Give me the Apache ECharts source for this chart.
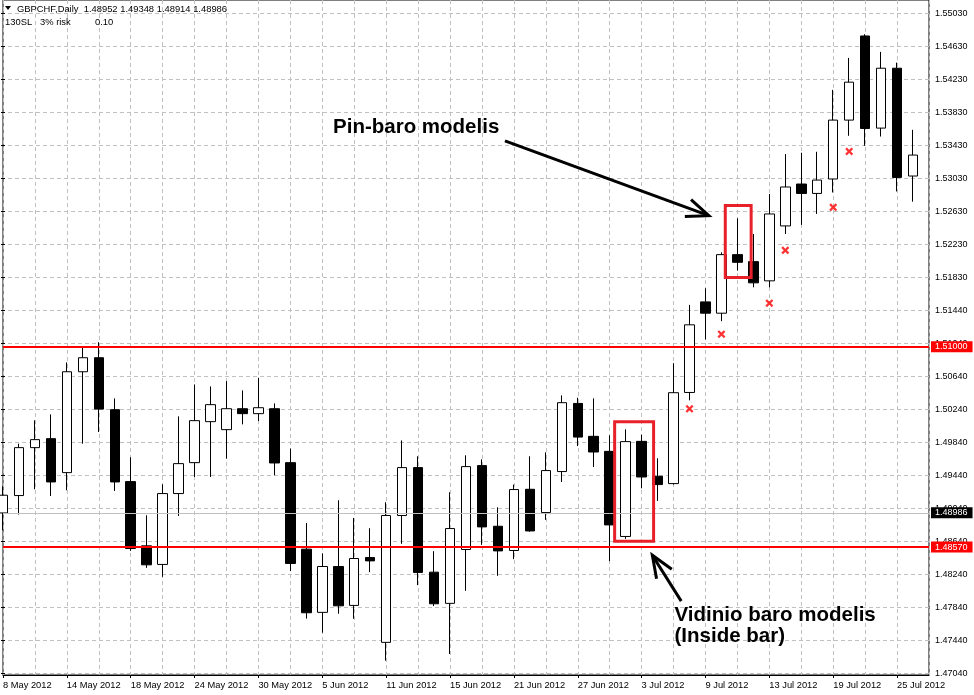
<!DOCTYPE html>
<html>
<head>
<meta charset="utf-8">
<script src="https://cdn.jsdelivr.net/npm/echarts@6/dist/echarts.min.js"></script>
<style>
html,body{margin:0;padding:0;background:#ffffff;}
#c{width:974px;height:695px;}
</style>
</head>
<body>
<div id="c"></div>
<script>
// ---------------- data ----------------
const categories = [
  '8 May 2012','9 May 2012','10 May 2012','11 May 2012','14 May 2012','15 May 2012','16 May 2012','17 May 2012',
  '18 May 2012','21 May 2012','22 May 2012','23 May 2012','24 May 2012','25 May 2012','28 May 2012','29 May 2012',
  '30 May 2012','31 May 2012','1 Jun 2012','4 Jun 2012','5 Jun 2012','6 Jun 2012','7 Jun 2012','8 Jun 2012',
  '11 Jun 2012','12 Jun 2012','13 Jun 2012','14 Jun 2012','15 Jun 2012','18 Jun 2012','19 Jun 2012','20 Jun 2012',
  '21 Jun 2012','22 Jun 2012','25 Jun 2012','26 Jun 2012','27 Jun 2012','28 Jun 2012','29 Jun 2012','2 Jul 2012',
  '3 Jul 2012','4 Jul 2012','5 Jul 2012','6 Jul 2012','9 Jul 2012','10 Jul 2012','11 Jul 2012','12 Jul 2012',
  '13 Jul 2012','16 Jul 2012','17 Jul 2012','18 Jul 2012','19 Jul 2012','20 Jul 2012','23 Jul 2012','24 Jul 2012',
  '25 Jul 2012','26 Jul 2012','27 Jul 2012'
];
// [open, close, low, high]
const ohlc = [
  [1.48984,1.49199,1.48775,1.49308],
  [1.49195,1.49776,1.48965,1.49824],
  [1.49776,1.49873,1.49271,1.50107],
  [1.49885,1.49360,1.49190,1.50179],
  [1.49473,1.50696,1.49259,1.50809],
  [1.50696,1.50866,1.49824,1.50994],
  [1.50866,1.50243,1.49965,1.51054],
  [1.50236,1.49360,1.49251,1.50373],
  [1.49364,1.48553,1.48524,1.49659],
  [1.48585,1.48355,1.48318,1.48956],
  [1.48360,1.49219,1.48210,1.49332],
  [1.49219,1.49582,1.48948,1.50155],
  [1.49594,1.50103,1.49420,1.50542],
  [1.50091,1.50297,1.49420,1.50518],
  [1.49994,1.50248,1.49643,1.50582],
  [1.50248,1.50188,1.50058,1.50470],
  [1.50188,1.50260,1.50098,1.50623],
  [1.50248,1.49590,1.49441,1.50312],
  [1.49594,1.48372,1.48279,1.49764],
  [1.48545,1.47774,1.47703,1.48862],
  [1.47779,1.48335,1.47532,1.48493],
  [1.48335,1.47858,1.47762,1.49138],
  [1.47863,1.48432,1.47701,1.48924],
  [1.48444,1.48403,1.48266,1.48799],
  [1.47415,1.48953,1.47193,1.49114],
  [1.48953,1.49534,1.48609,1.49864],
  [1.49534,1.48263,1.48109,1.49671],
  [1.48266,1.47883,1.47855,1.48521],
  [1.47888,1.48795,1.47274,1.49235],
  [1.48541,1.49546,1.48040,1.49683],
  [1.49558,1.48815,1.48597,1.49634],
  [1.48823,1.48524,1.48222,1.49053],
  [1.48529,1.49268,1.48424,1.49328],
  [1.49271,1.48766,1.48757,1.49671],
  [1.48989,1.49498,1.48900,1.49719],
  [1.49486,1.50321,1.49360,1.50409],
  [1.50312,1.49904,1.49795,1.50381],
  [1.49913,1.49723,1.49541,1.50373],
  [1.49731,1.48839,1.48400,1.49925],
  [1.48699,1.49849,1.48670,1.49998],
  [1.49852,1.49420,1.49283,1.49933],
  [1.49429,1.49328,1.49130,1.49647],
  [1.49340,1.50442,1.49328,1.50800],
  [1.50445,1.51265,1.50349,1.51507],
  [1.51543,1.51406,1.51087,1.51708],
  [1.51406,1.52116,1.51309,1.52144],
  [1.52116,1.52023,1.51922,1.52556],
  [1.52031,1.51774,1.51720,1.52367],
  [1.51798,1.52609,1.51720,1.52851],
  [1.52464,1.52936,1.52367,1.53335],
  [1.52972,1.52858,1.52476,1.53351],
  [1.52858,1.53020,1.52609,1.53363],
  [1.53033,1.53747,1.52870,1.54114],
  [1.53747,1.54207,1.53557,1.54501],
  [1.54767,1.53645,1.53436,1.54788],
  [1.53650,1.54376,1.53548,1.54574],
  [1.54376,1.53052,1.52882,1.54444],
  [1.53069,1.53323,1.52758,1.53629]
];
// trailing-stop markers (red crosses)
const stopIdx = [43, 45, 48, 49, 52, 53];
const stopPrice = [1.50246, 1.51151, 1.51527, 1.52168, 1.52689, 1.53367];
// right price scale labels (bottom to top)
const yTickLabels = ['1.47040','1.47440','1.47840','1.48240','1.48640','1.49040','1.49440','1.49840','1.50240','1.50640',
  '1.51040','1.51440','1.51830','1.52230','1.52630','1.53030','1.53430','1.53830','1.54230','1.54630','1.55030'];
const yTickLow = 1.47040, yTickHigh = 1.55030;
// horizontal levels: two red support/resistance lines and the grey bid line
const levelPrices = [1.51000, 1.48570];
const levelLabels = ['1.51000', '1.48570'];
const bidPrice = 1.48986;
const bidLabel = '1.48986';
// header
const headerTitle = 'GBPCHF,Daily';
const headerOHLC = ['1.48952', '1.49348', '1.48914', '1.48986'];
const headerLine2 = ['130SL', '3% risk', '0.10'];
// annotations (bar index, price)
const boxes = [
  { i0: 38.31, i1: 40.75, p0: 1.50091, p1: 1.48642 },
  { i0: 45.24, i1: 46.86, p0: 1.52712, p1: 1.51840 }
];
const arrows = [
  { from: [31.44, 1.53496], to: [44.21, 1.52588] },
  { from: [42.48, 1.47915], to: [40.67, 1.48472] }
];
const notes = [
  { i: 20.67, p: 1.53657, text: 'Pin-baro modelis' },
  { i: 42.06, p: 1.47746, text: 'Vidinio baro modelis' },
  { i: 42.06, p: 1.47483, text: '(Inside bar)' }
];

// ---------------- layout ----------------
const FONT = '"Liberation Sans", Arial, sans-serif';
const W = 974, H = 695;
const plotLeft = 1, plotRight = 929, plotTop = -1, plotBottom = 675;
const tickTopPx = 13.3, tickBottomPx = 673.3;
const ppu = (tickBottomPx - tickTopPx) / (yTickHigh - yTickLow);
const dataMax = yTickHigh + (tickTopPx - plotTop) / ppu;
const dataMin = yTickLow - (plotBottom - tickBottomPx) / ppu;

const chart = echarts.init(document.getElementById('c'), null, { renderer: 'canvas' });

const gridLine = { color: '#c0c0c0', width: 1, type: [4, 3] };

function levelSeries(price, text, lineColor, width, bg, z) {
  return {
    type: 'line', xAxisIndex: 0, yAxisIndex: 0, data: [], silent: true, z: z,
    markLine: {
      symbol: 'none', silent: true, animation: false, precision: 5,
      lineStyle: { color: lineColor, width: width, type: 'solid' },
      label: { show: true, position: 'end', distance: 2, color: '#ffffff', fontSize: 9, fontFamily: FONT,
        padding: [1, 5, 0, 4], lineHeight: 10, backgroundColor: bg, formatter: text },
      data: [{ yAxis: price }]
    }
  };
}

chart.setOption({
  animation: false,
  backgroundColor: '#ffffff',
  grid: [
    { left: plotLeft, right: W - plotRight, top: plotTop, bottom: H - plotBottom,
      show: true, borderColor: '#000', borderWidth: 1, backgroundColor: 'transparent' },
    { left: plotLeft, right: W - plotRight, top: tickTopPx, bottom: H - tickBottomPx }
  ],
  xAxis: [
    { type: 'category', gridIndex: 0, data: categories, boundaryGap: false,
      axisLine: { show: true, lineStyle: { color: '#000', width: 1 } },
      axisTick: { show: true, interval: 3, length: 3, lineStyle: { color: '#000' } },
      axisLabel: { interval: 3, align: 'left', margin: 6, color: '#000', fontSize: 9.3, fontFamily: FONT },
      splitLine: { show: true, interval: 1, lineStyle: gridLine } },
    { type: 'value', gridIndex: 1, show: false, min: 0, max: 1 }
  ],
  yAxis: [
    { type: 'value', gridIndex: 0, min: dataMin, max: dataMax, show: false },
    { type: 'value', gridIndex: 1, position: 'right', min: 0, max: yTickLabels.length - 1, interval: 1,
      axisLine: { show: false },
      axisTick: { show: true, length: 4, lineStyle: { color: '#000' } },
      axisLabel: { margin: 6, color: '#000', fontSize: 9, fontFamily: FONT,
        formatter: v => yTickLabels[Math.round(v)] },
      splitLine: { show: true, lineStyle: gridLine } }
  ],
  series: [
    levelSeries(bidPrice, bidLabel, '#c0c0c0', 1, '#000000', 1),
    { type: 'candlestick', xAxisIndex: 0, yAxisIndex: 0, data: ohlc, barWidth: 10, clip: true, z: 2,
      itemStyle: { color: '#ffffff', color0: '#000000', borderColor: '#000000', borderColor0: '#000000', borderWidth: 1 },
      emphasis: { disabled: true } },
    levelSeries(levelPrices[0], levelLabels[0], '#ff0000', 2, '#ff0000', 3),
    levelSeries(levelPrices[1], levelLabels[1], '#ff0000', 2, '#ff0000', 3),
    { type: 'scatter', xAxisIndex: 0, yAxisIndex: 0,
      data: stopIdx.map((idx, k) => [idx, stopPrice[k]]),
      symbol: 'path://M0,2L2,0L5,3L8,0L10,2L7,5L10,8L8,10L5,7L2,10L0,8L3,5Z',
      symbolSize: 8, itemStyle: { color: '#ff0000' }, silent: true, z: 5 }
  ]
});

// ---------------- annotations (positions from data coords) ----------------
const xFirst = chart.convertToPixel({ xAxisIndex: 0 }, categories[0]);
const xLast = chart.convertToPixel({ xAxisIndex: 0 }, categories[categories.length - 1]);
const px = i => xFirst + (xLast - xFirst) * i / (categories.length - 1);
const py = p => chart.convertToPixel({ yAxisIndex: 0 }, p);

const graphics = [];
boxes.forEach(b => {
  const x0 = px(b.i0), x1 = px(b.i1), y0 = py(b.p0), y1 = py(b.p1);
  graphics.push({ type: 'rect', z: 100, silent: true,
    shape: { x: Math.min(x0, x1), y: Math.min(y0, y1), width: Math.abs(x1 - x0), height: Math.abs(y1 - y0) },
    style: { fill: null, stroke: '#e8202a', lineWidth: 3 } });
});
arrows.forEach(a => {
  const fx = px(a.from[0]), fy = py(a.from[1]), tx = px(a.to[0]), ty = py(a.to[1]);
  const ang = Math.atan2(fy - ty, fx - tx);
  const L = 24, spread = 22 * Math.PI / 180;
  const b1 = [tx + L * Math.cos(ang + spread), ty + L * Math.sin(ang + spread)];
  const b2 = [tx + L * Math.cos(ang - spread), ty + L * Math.sin(ang - spread)];
  graphics.push({ type: 'polyline', z: 100, silent: true,
    shape: { points: [[fx, fy], [tx, ty]] }, style: { stroke: '#000', lineWidth: 3, fill: null } });
  graphics.push({ type: 'polyline', z: 100, silent: true,
    shape: { points: [b1, [tx, ty], b2] }, style: { stroke: '#000', lineWidth: 3, fill: null, lineJoin: 'miter' } });
});
notes.forEach(n => {
  graphics.push({ type: 'text', z: 100, silent: true, x: px(n.i), y: py(n.p),
    style: { text: n.text, fill: '#000', fontSize: 20.5, fontWeight: 'bold', fontFamily: FONT,
      textAlign: 'left', textVerticalAlign: 'middle', align: 'left', verticalAlign: 'middle' } });
});
// header
graphics.push({ type: 'polygon', z: 100, silent: true, shape: { points: [[5, 6], [11, 6], [8, 10]] }, style: { fill: '#000' } });
graphics.push({ type: 'text', z: 100, silent: true, x: 17, y: 9.5,
  style: { text: headerTitle + '  ' + headerOHLC.join(' '), fill: '#000', fontSize: 9.4, fontFamily: FONT,
    textAlign: 'left', textVerticalAlign: 'middle', align: 'left', verticalAlign: 'middle' } });
[5, 40, 95].forEach((x, k) => {
  graphics.push({ type: 'text', z: 100, silent: true, x: x, y: 22.5,
    style: { text: headerLine2[k], fill: '#000', fontSize: 9.4, fontFamily: FONT,
      textAlign: 'left', textVerticalAlign: 'middle', align: 'left', verticalAlign: 'middle' } });
});
chart.setOption({ graphic: graphics });
</script>
</body>
</html>
